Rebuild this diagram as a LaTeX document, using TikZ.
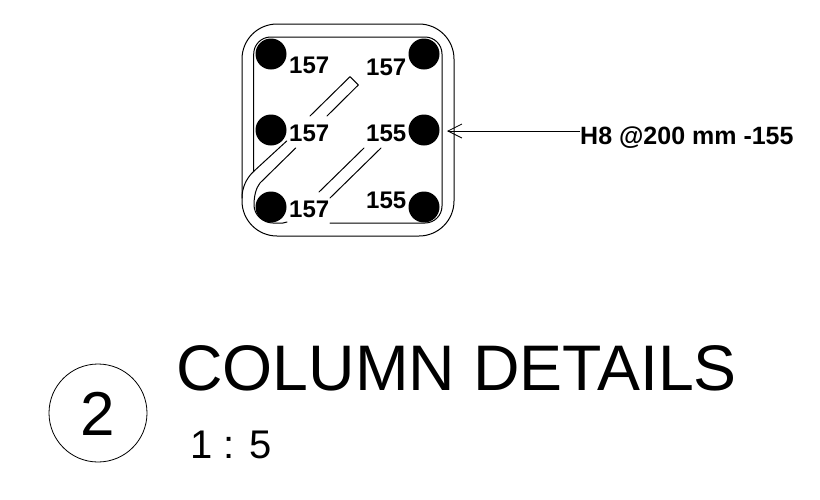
\documentclass[tikz,border=0pt]{standalone}
\usepackage{fontspec}
\setmainfont{Liberation Sans}
\usetikzlibrary{arrows.meta}
\tikzset{
  barnum/.style={anchor=base west,inner sep=0pt,font=\fontsize{24}{24}\selectfont\bfseries},
  rebar/.style={circle,fill=black,draw=none,minimum size=31pt,inner sep=0pt},
  tie/.style={line width=1pt,black,line cap=round,line join=round},
}
\begin{document}
\begin{tikzpicture}[x=1pt,y=-1pt]
\useasboundingbox (0,0) rectangle (820,499);
% bars
\node[rebar] (tl) at (271,54) {};
\node[rebar] (tr) at (424,54) {};
\node[rebar] (ml) at (271,130) {};
\node[rebar] (mr) at (424,130) {};
\node[rebar] (bl) at (271,207) {};
\node[rebar] (br) at (424,207) {};
% outer outline of the stirrup
\draw[tie,rounded corners=35pt] (242,130) -- (242,24) -- (454,24) -- (454,236) -- (242,236) -- (242,130);
% inner outline
\draw[tie,rounded corners=17pt] (253.7,172) -- (253.7,37) -- (442,37) -- (442,223) -- (330,223);
% upper hook
\draw[tie] (310,116) -- (350,76.7) -- (358.3,85) -- (327,116);
\draw[tie] (286.7,141) -- (253,172) .. controls (246,179) and (242,188) .. (242,198);
\draw[tie] (295.7,148) -- (260,183) .. controls (256,188) and (254,196) .. (254,205)
  .. controls (254,215) and (263,223) .. (273,223) -- (283,223) -- (287,222);
% lower hook
\draw[tie] (364,148) -- (319,192);
\draw[tie] (381,148) -- (330,198);
% bar marks
\node[barnum] (n1) at (289,73) {157};
\node[barnum] (n2) at (366,75) {157};
\node[barnum] (n3) at (289,141) {157};
\node[barnum] (n4) at (366,141) {155};
\node[barnum] (n5) at (289,217) {157};
\node[barnum] (n6) at (366,208) {155};
% leader
\node[anchor=base west,inner sep=0pt,font=\fontsize{25}{25}\selectfont\bfseries] (lab) at (580,144) {H8 @200 mm -155};
\coordinate (tip) at (447,131);
\draw[line width=0.8pt,-{Straight Barb[length=14pt,width=14pt,line width=0.8pt]}] (lab.west |- tip) -- (tip);
% title
\node[anchor=base west,inner sep=0pt,font=\fontsize{64.4}{64.4}\selectfont] (title) at (176,390) {COLUMN DETAILS};
\node[anchor=base west,inner sep=0pt,font=\fontsize{40}{40}\selectfont] (scale) at (190,458) {1 : 5};
\node[circle,draw,line width=0.8pt,minimum size=98pt,inner sep=0pt] (sym) at (98,413) {};
\node[anchor=base,inner sep=0pt,font=\fontsize{62}{62}\selectfont] (num) at (98,435) {2};
\end{tikzpicture}
\end{document}
